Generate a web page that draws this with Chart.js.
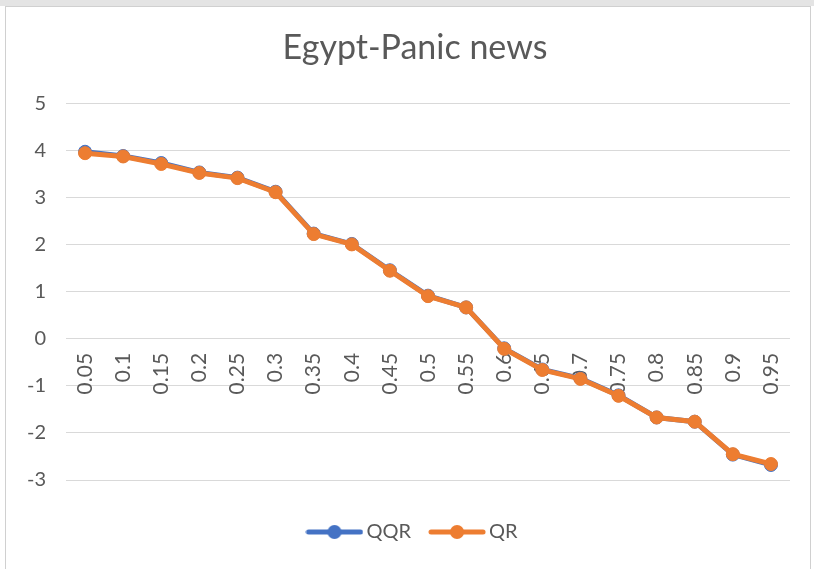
<!DOCTYPE html>
<html>
<head>
<meta charset="utf-8">
<title>Egypt-Panic news</title>
<script src="https://cdn.jsdelivr.net/npm/chart.js@4.4.1/dist/chart.umd.min.js"></script>
<style>
  html, body { margin: 0; padding: 0; background: #fff; }
  #wrap { position: absolute; left: 0; top: 0; width: 814px; height: 569px; overflow: hidden; }
  #topbar { position: absolute; left: 0; top: 0; width: 814px; height: 6px; background: #e4e4e4; }
  #box { position: absolute; left: 5px; top: 6px; width: 804px; height: 580px; border: 1px solid #d0d0d0; background: #fff; }
  #chart { position: absolute; left: 0; top: 0; }
</style>
</head>
<body>
<div id="wrap">
  <div id="topbar"></div>
  <div id="box"></div>
  <canvas id="chart" width="814" height="569"></canvas>
</div>
<script>
// Quantile levels on the category axis
const quantiles = ['0.05', '0.1', '0.15', '0.2', '0.25', '0.3', '0.35', '0.4', '0.45', '0.5',
                   '0.55', '0.6', '0.65', '0.7', '0.75', '0.8', '0.85', '0.9', '0.95'];

// Estimated coefficients per quantile
const qqrValues = [3.98, 3.89, 3.74, 3.54, 3.43, 3.13, 2.24, 2.02, 1.46, 0.92,
                   0.67, -0.20, -0.65, -0.84, -1.20, -1.67, -1.76, -2.46, -2.68];
const qrValues  = [3.95, 3.88, 3.72, 3.53, 3.42, 3.12, 2.23, 2.01, 1.45, 0.91,
                   0.67, -0.21, -0.66, -0.85, -1.21, -1.67, -1.76, -2.45, -2.66];

// Value axis range
const yMin = -3;
const yMax = 5;
const yStep = 1;

const FONT = 'Lato, "Open Sans", sans-serif';
const TEXT = '#595959';
const BLUE = '#4472C4';
const ORANGE = '#ED7D31';

// Legend swatch: a short line with a marker in the middle
function legendMarker(color) {
    const c = document.createElement('canvas');
    c.width = 58;
    c.height = 16;
    const g = c.getContext('2d');
    g.strokeStyle = color;
    g.lineWidth = 5;
    g.lineCap = 'round';
    g.beginPath();
    g.moveTo(3, 8);
    g.lineTo(55, 8);
    g.stroke();
    g.fillStyle = color;
    g.beginPath();
    g.arc(29, 8, 7, 0, Math.PI * 2);
    g.fill();
    return c;
}

const markers = [legendMarker(BLUE), legendMarker(ORANGE)];

const ctx = document.getElementById('chart').getContext('2d');
new Chart(ctx, {
    type: 'line',
    data: {
        labels: quantiles,
        datasets: [
            {
                label: 'QQR',
                data: qqrValues,
                borderColor: BLUE,
                backgroundColor: BLUE,
                pointBackgroundColor: BLUE,
                pointBorderColor: BLUE,
                borderWidth: 5,
                pointRadius: 6.5,
                pointBorderWidth: 1,
                order: 1
            },
            {
                label: 'QR',
                data: qrValues,
                borderColor: ORANGE,
                backgroundColor: ORANGE,
                pointBackgroundColor: ORANGE,
                pointBorderColor: ORANGE,
                borderWidth: 5,
                pointRadius: 6.5,
                pointBorderWidth: 1,
                order: 0
            }
        ]
    },
    options: {
        responsive: false,
        animation: false,
        layout: {
            padding: { left: 26, right: 10, top: 0, bottom: 17 }
        },
        scales: {
            x: {
                type: 'category',
                position: { y: 0 },
                offset: true,
                grid: { display: false, drawTicks: false },
                border: { display: false },
                ticks: {
                    color: TEXT,
                    font: { family: FONT, size: 21 },
                    minRotation: 90,
                    maxRotation: 90,
                    autoSkip: false,
                    padding: 14
                }
            },
            y: {
                min: yMin,
                max: yMax,
                grid: { color: '#d9d9d9', lineWidth: 1, drawTicks: false },
                border: { display: false },
                ticks: {
                    stepSize: yStep,
                    color: TEXT,
                    font: { family: FONT, size: 20 },
                    padding: 20
                },
                afterFit: function (scale) {
                    scale.width = 40;
                }
            },
            // empty strip on the right, keeps the plot off the frame edge
            gap: {
                type: 'linear',
                position: 'right',
                grid: { display: false, drawTicks: false },
                border: { display: false },
                ticks: { display: false },
                afterFit: function (scale) {
                    scale.width = 14;
                }
            }
        },
        plugins: {
            title: {
                display: true,
                text: 'Egypt-Panic news',
                color: TEXT,
                font: { family: FONT, size: 34, weight: 'normal' },
                padding: { top: 28, bottom: 35 }
            },
            legend: {
                position: 'bottom',
                // empty title only reserves space above the legend row
                title: {
                    display: true,
                    text: '',
                    font: { size: 10 },
                    padding: { top: 6, bottom: 0 }
                },
                labels: {
                    usePointStyle: true,
                    pointStyleWidth: 44,
                    padding: 24,
                    color: TEXT,
                    font: { family: FONT, size: 20 },
                    generateLabels: function (chart) {
                        return chart.data.datasets.map(function (ds, i) {
                            return {
                                text: ds.label,
                                pointStyle: markers[i],
                                fillStyle: ds.borderColor,
                                strokeStyle: ds.borderColor,
                                lineWidth: 0,
                                fontColor: TEXT,
                                hidden: false,
                                datasetIndex: i
                            };
                        });
                    }
                }
            },
            tooltip: { enabled: false }
        }
    }
});
</script>
</body>
</html>
